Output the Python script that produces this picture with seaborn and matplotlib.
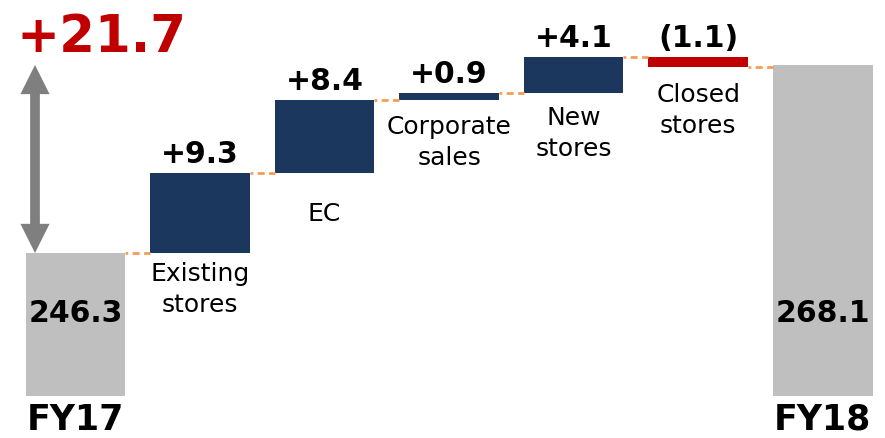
import numpy as np
import matplotlib
matplotlib.use("Agg")
import matplotlib.pyplot as plt
import matplotlib.transforms as mtransforms
import seaborn as sns

# ---- data ----
categories = ["FY17", "Existing\nstores", "EC", "Corporate\nsales", "New\nstores", "Closed\nstores", "FY18"]
start_total = 246.3
end_total = 268.1
changes = [9.3, 8.4, 0.9, 4.1, -1.1]
change_labels = ["+9.3", "+8.4", "+0.9", "+4.1", "(1.1)"]
total_labels = ["246.3", "268.1"]
growth_label = "+21.7"

# ---- style ----
sns.set_style("white")
plt.rcParams["font.family"] = ["DejaVu Sans"]

NAVY = "#1B375E"
GREY = "#BFBFBF"
RED = "#C00000"
ORANGE = "#F59D56"

levels = start_total + np.cumsum(changes)
starts = np.concatenate([[start_total], levels[:-1]])
float_bottoms = np.minimum(starts, levels)
float_heights = np.abs(changes)

heights = np.concatenate([[start_total], float_heights, [end_total]])
bottoms = np.concatenate([[0.0], float_bottoms, [0.0]])
colors = [GREY] + [NAVY if c > 0 else RED for c in changes] + [GREY]

fig = plt.figure(figsize=(8.85, 4.39), dpi=100)
ax = fig.add_axes([0, 42 / 439, 1, 397 / 439])

sns.barplot(x=categories, y=heights, order=categories, bottom=bottoms,
            width=0.8, color=NAVY, ax=ax, linewidth=0, saturation=1)
for patch, c in zip(ax.patches, colors):
    patch.set_facecolor(c)
    patch.set_edgecolor("none")

ax.set_xlim(-0.606, 6.50)
ax.set_ylim(229.72, 275.75)
for s in ax.spines.values():
    s.set_visible(False)
ax.set_yticks([])
ax.set_ylabel("")
ax.set_xlabel("")

# connectors
cum = np.concatenate([[start_total], levels])
for i, y in enumerate(cum):
    ax.plot([i + 0.4, i + 0.6], [y, y], color=ORANGE, lw=2, ls=(1.5, (2.5, 1.6)),
            zorder=1, solid_capstyle="butt", dash_capstyle="butt")

# value labels above floating bars
tops = np.maximum(starts, levels)
for i, (t, lab) in enumerate(zip(tops, change_labels)):
    ax.annotate(lab, xy=(i + 1, t), xytext=(0, 14), textcoords="offset points",
                ha="center", va="center", fontsize=21.5, fontweight="bold", color="black")

# category labels below floating bars
label_offsets = [6, 20, 10, 9, 11]
for i, (b, off) in enumerate(zip(float_bottoms, label_offsets)):
    ax.annotate(categories[i + 1], xy=(i + 1, b), xytext=(0, -off), textcoords="offset points",
                ha="center", va="top", fontsize=18, color="black", linespacing=1.35)

# totals inside grey bars
trans = mtransforms.blended_transform_factory(ax.transData, ax.transAxes)
for x, lab in zip([0, len(categories) - 1], total_labels):
    ax.text(x, 0.21, lab, transform=trans, ha="center", va="center",
            fontsize=21.5, fontweight="bold", color="black")

# FY tick labels
ax.set_xticks([0, len(categories) - 1])
ax.set_xticklabels([categories[0], categories[-1]], fontsize=25, fontweight="bold", color="black")
ax.tick_params(axis="x", length=0, pad=4, colors="black")

# growth double arrow (two filled arrows from the middle outwards)
arrow_x = -0.325
mid = (start_total + end_total) / 2
for target in (end_total, start_total):
    ax.annotate("", xy=(arrow_x, target), xytext=(arrow_x, mid),
                arrowprops=dict(arrowstyle="simple,tail_width=0.35,head_width=1.05,head_length=1.05",
                                mutation_scale=20, lw=0, color="#7F7F7F",
                                shrinkA=0, shrinkB=0))
ax.text(-0.475, 269.7, growth_label, ha="left", va="baseline",
        fontsize=37, fontweight="bold", color=RED)

fig.savefig("out.png", dpi=100)
